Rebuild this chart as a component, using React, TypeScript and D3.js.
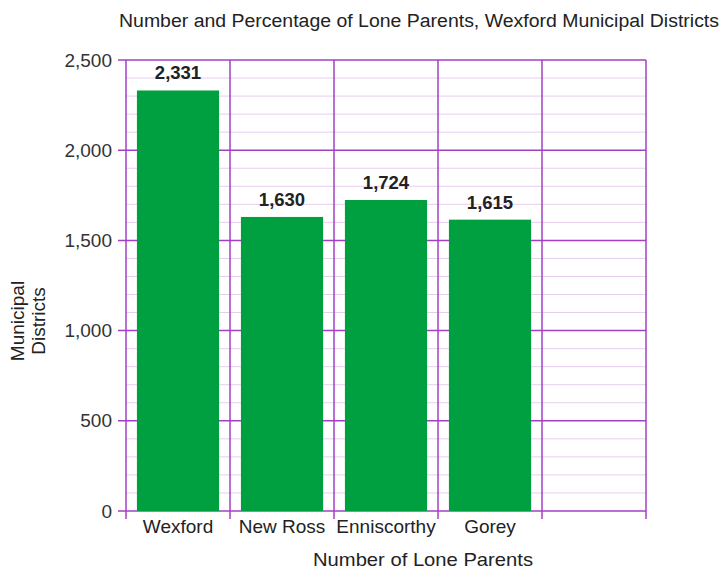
import React from "react";
import * as d3 from "d3";

const categories = ["Wexford", "New Ross", "Enniscorthy", "Gorey", ""];
const values = [2331, 1630, 1724, 1615];
const yTicks = [0, 500, 1000, 1500, 2000, 2500];
const title = "Number and Percentage of Lone Parents, Wexford Municipal Districts";
const xTitle = "Number of Lone Parents";
const yTitleLines = ["Municipal", "Districts"];

const W = 723, H = 569;
const left = 126, right = 646, top = 60, bottom = 511;
const major = "#a23fc4";
const minor = "#e8cdef";
const green = "#00a040";
const font = "'Liberation Sans', Arial, sans-serif";

export default function App() {
  const keys = categories.map((c, i) => i + ":" + c);
  const x = d3.scaleBand<string>().domain(keys).range([left, right]).paddingInner(0.21).paddingOuter(0.105);
  const cols = d3.scaleBand<string>().domain(keys).range([left, right]).padding(0);
  const y = d3.scaleLinear().domain([0, 2500]).range([bottom, top]);
  const minorTicks = d3.range(0, 2501, 100).filter((v) => v % 500 !== 0);
  const fmt = d3.format(",");
  return (
    <svg width={W} height={H} style={{ position: "absolute", left: 0, top: 0, background: "#fff" }} fontFamily={font}>
      <text x={119} y={27} fontSize={18} fill="#222" textLength={600} lengthAdjust="spacingAndGlyphs">{title}</text>
      {minorTicks.map((v) => (
        <line key={"m" + v} x1={left} x2={right} y1={y(v)} y2={y(v)} stroke={minor} strokeWidth={1} />
      ))}
      {yTicks.map((v) => (
        <line key={"M" + v} x1={left - 8} x2={right} y1={y(v)} y2={y(v)} stroke={major} strokeWidth={1.5} />
      ))}
      {keys.map((k) => (
        <line key={"v" + k} x1={cols(k)!} x2={cols(k)!} y1={top} y2={bottom + 8} stroke={major} strokeWidth={1.5} />
      ))}
      <line x1={right} x2={right} y1={top} y2={bottom + 8} stroke={major} strokeWidth={1.5} />
      {values.map((v, i) => (
        <g key={"b" + i}>
          <rect x={x(keys[i])!} y={y(v)} width={x.bandwidth()} height={bottom - y(v)} fill={green} />
          <text x={x(keys[i])! + x.bandwidth() / 2} y={y(v) - 11} textAnchor="middle" fontSize={18.5} fontWeight="bold" fill="#222">{fmt(v)}</text>
        </g>
      ))}
      {yTicks.map((v) => (
        <text key={"t" + v} x={112} y={y(v) + 6.5} textAnchor="end" fontSize={19} fill="#333">{fmt(v)}</text>
      ))}
      {categories.map((c, i) => (
        <text key={"c" + i} x={cols(keys[i])! + cols.bandwidth() / 2} y={bottom + 22} textAnchor="middle" fontSize={19} fill="#222">{c}</text>
      ))}
      <text x={313} y={566} fontSize={18.5} fill="#222" textLength={220} lengthAdjust="spacingAndGlyphs">{xTitle}</text>
      {yTitleLines.map((t, i) => (
        <text key={"y" + i} transform={`translate(${24 + i * 21},321) rotate(-90)`} textAnchor="middle" fontSize={19} fill="#222">{t}</text>
      ))}
    </svg>
  );
}
